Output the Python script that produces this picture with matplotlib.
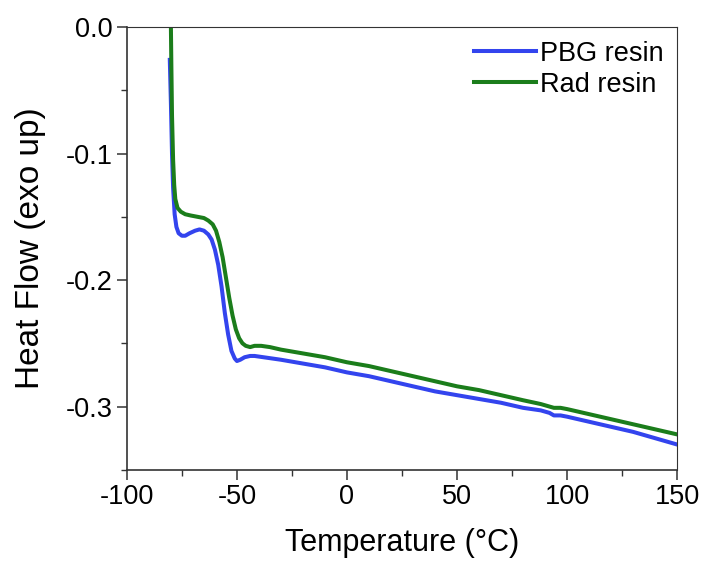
import numpy as np
import matplotlib
matplotlib.use("Agg")
import matplotlib.pyplot as plt
from matplotlib.ticker import MultipleLocator

plt.rcParams['font.family'] = ['Liberation Sans', 'DejaVu Sans']
plt.rcParams['axes.unicode_minus'] = False

# PBG resin curve
pbg_t = [-80.5, -80.0, -79.5, -79.0, -78.3, -77.5, -76.5, -75.0, -73.5, -71.5,
         -69, -67, -65, -63, -61.5, -60, -58.5, -57, -55.5, -54,
         -52.5, -51, -50, -48.5, -46.5, -44, -42, -38, -30, -20,
         -10, 0, 10, 20, 30, 40, 50, 60, 70, 80,
         88, 92, 94, 97, 100, 110, 120, 130, 140, 150]
pbg_hf = [-0.026, -0.06, -0.10, -0.127, -0.148, -0.158, -0.163, -0.165, -0.165, -0.163,
          -0.161, -0.160, -0.161, -0.164, -0.168, -0.176, -0.188, -0.205, -0.226, -0.243,
          -0.256, -0.262, -0.264, -0.263, -0.261, -0.260, -0.260, -0.261, -0.263, -0.266,
          -0.269, -0.273, -0.276, -0.280, -0.284, -0.288, -0.291, -0.294, -0.297, -0.301,
          -0.303, -0.305, -0.307, -0.307, -0.308, -0.312, -0.316, -0.320, -0.325, -0.330]

# Rad resin curve
rad_t = [-80.0, -79.8, -79.5, -79.0, -78.5, -78.0, -77, -75.5, -73.5, -71,
         -68, -65, -63, -61, -59.5, -58, -56.5, -55, -53.5, -52,
         -50.5, -49, -47.5, -46, -44, -42, -39, -35, -30, -20,
         -10, 0, 10, 20, 30, 40, 50, 60, 70, 80,
         88, 92, 94, 97, 100, 110, 120, 130, 140, 150]
rad_hf = [0.0, -0.03, -0.07, -0.105, -0.125, -0.136, -0.143, -0.146, -0.148, -0.149,
          -0.150, -0.151, -0.153, -0.156, -0.161, -0.170, -0.182, -0.198, -0.214, -0.228,
          -0.239, -0.246, -0.250, -0.252, -0.253, -0.252, -0.252, -0.253, -0.255, -0.258,
          -0.261, -0.265, -0.268, -0.272, -0.276, -0.280, -0.284, -0.287, -0.291, -0.295,
          -0.298, -0.300, -0.301, -0.301, -0.302, -0.306, -0.310, -0.314, -0.318, -0.322]

fig = plt.figure(figsize=(7.01, 5.62), dpi=100)
ax = fig.add_axes([0.181, 0.164, 0.785, 0.788])

ax.plot(pbg_t, pbg_hf, color='#3344EE', lw=2.9, label='PBG resin')
ax.plot(rad_t, rad_hf, color='#1B7D1B', lw=2.9, label='Rad resin')

ax.set_xlim(-100, 150)
ax.set_ylim(-0.35, 0.0)
ax.xaxis.set_major_locator(MultipleLocator(50))
ax.xaxis.set_minor_locator(MultipleLocator(25))
ax.yaxis.set_major_locator(MultipleLocator(0.1))
ax.yaxis.set_minor_locator(MultipleLocator(0.05))
ax.yaxis.set_major_formatter(plt.FormatStrFormatter('%.1f'))

ax.tick_params(which='major', direction='out', length=7, width=1.1,
               labelsize=19.5, color='#333333', top=False, right=False)
ax.tick_params(which='minor', direction='out', length=4, width=1.0,
               color='#333333', top=False, right=False)
for side in ['left', 'bottom']:
    ax.spines[side].set_linewidth(1.2)
    ax.spines[side].set_color('#333333')
for side in ['top', 'right']:
    ax.spines[side].set_linewidth(0.8)
    ax.spines[side].set_color('#333333')

ax.set_xlabel('Temperature (°C)', fontsize=22, labelpad=13)
ax.set_ylabel('Heat Flow (exo up)', fontsize=24, labelpad=14)

ax.legend(loc='upper right', frameon=False, fontsize=19.5, handlelength=2.3,
          handletextpad=0.15, labelspacing=0.2, borderaxespad=0.1)

fig.savefig('out.png', dpi=100)
